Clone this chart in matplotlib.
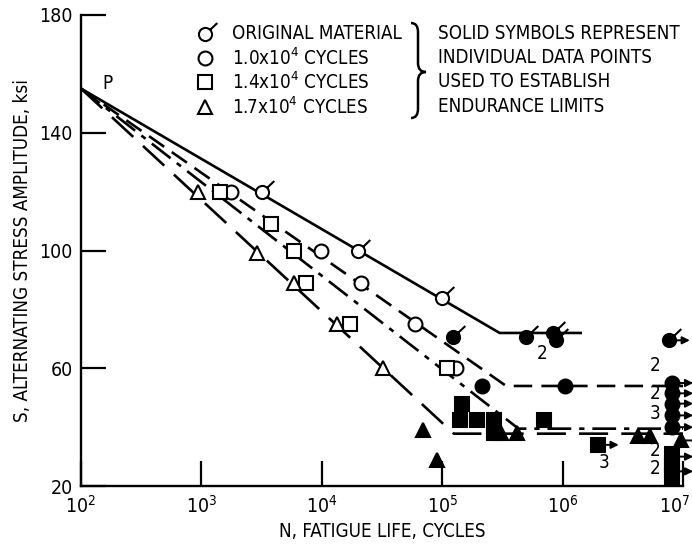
import matplotlib
matplotlib.use('Agg')
import matplotlib.pyplot as plt
import matplotlib.transforms as mtransforms
from matplotlib.path import Path
from matplotlib.patches import PathPatch

plt.rcParams['font.family'] = ['DejaVu Sans']
plt.rcParams['font.stretch'] = 'condensed'
plt.rcParams['mathtext.fontset'] = 'custom'
plt.rcParams['mathtext.rm'] = 'DejaVu Sans:stretch=condensed'
plt.rcParams['mathtext.it'] = 'DejaVu Sans:italic:stretch=condensed'

# fitted S-N lines (cycles, ksi)
orig_line_x = [1e2, 3.0e5, 1.45e6]
orig_line_y = [155, 72, 72]
c10_line_x = [1e2, 3.4e5, 1e7]
c10_line_y = [155, 54, 54]
c14_line_x = [1e2, 4.3e5, 1e7]
c14_line_y = [155, 39.5, 39.5]
c17_line_x = [1e2, 1.25e5, 1e7]
c17_line_y = [155, 37.8, 37.8]

# open symbols
orig_open_x = [3.2e3, 2.0e4, 1.0e5]
orig_open_y = [120, 100, 84]
c10_open_x = [1.76e3, 9.8e3, 2.1e4, 5.9e4, 1.3e5]
c10_open_y = [120, 100, 89, 75, 60]
c14_open_x = [1.42e3, 3.8e3, 5.9e3, 7.4e3, 1.7e4, 1.1e5]
c14_open_y = [120, 109, 100, 89, 75, 60]
c17_open_x = [9.4e2, 2.9e3, 5.9e3, 1.34e4, 3.2e4]
c17_open_y = [120, 99, 89, 75, 60]

# solid symbols (endurance limit points)
orig_solid_x = [1.23e5, 5.0e5, 8.3e5, 8.8e5, 7.6e6]
orig_solid_y = [70.5, 70.5, 72, 69.5, 69.5]
c10_solid_x = [2.14e5, 1.05e6, 8.1e6, 8.1e6, 8.1e6, 8.1e6, 8.1e6]
c10_solid_y = [54, 54, 55, 51.5, 48, 44, 40]
c14_solid_x = [1.45e5, 1.4e5, 1.95e5, 2.7e5, 2.7e5, 7.0e5, 1.95e6,
               8.1e6, 8.1e6, 8.1e6, 8.1e6]
c14_solid_y = [48, 42.5, 42.5, 42.5, 38, 42.5, 34, 31, 28, 25, 23]
c17_solid_x = [6.9e4, 9.1e4, 3.1e5, 4.2e5, 4.2e6, 5.3e6, 9.6e6]
c17_solid_y = [39, 29, 38, 38, 37, 37, 35.5]

# runouts (arrows)
runout_x = [7.6e6, 8.1e6, 8.1e6, 8.1e6, 8.1e6, 8.1e6, 9.6e6, 8.1e6, 8.1e6, 1.95e6]
runout_y = [69.5, 55, 51.5, 48, 44, 40, 35.5, 30, 25, 34]

# multiplicity labels
count_x = [6.8e5, 5.9e6, 5.9e6, 5.9e6, 5.9e6, 5.9e6, 2.2e6]
count_y = [65, 61, 51.5, 44.5, 32, 26, 28]
count_txt = ['2', '2', '2', '3', '2', '2', '3']

x_ticks = [1e2, 1e3, 1e4, 1e5, 1e6, 1e7]
y_ticks = [20, 60, 100, 140, 180]

legend_labels = ['ORIGINAL MATERIAL', r'1.0x10$^4$ CYCLES',
                 r'1.4x10$^4$ CYCLES', r'1.7x10$^4$ CYCLES']
note_lines = ['SOLID SYMBOLS REPRESENT', 'INDIVIDUAL DATA POINTS',
              'USED TO ESTABLISH', 'ENDURANCE LIMITS']

# circle with a flag for original material
flag_marker = Path.make_compound_path(
    Path.unit_circle(),
    Path([(0.71, 0.71), (1.8, 1.75)], [Path.MOVETO, Path.LINETO]))

fig = plt.figure(figsize=(6.92, 5.53), dpi=100)
ax = fig.add_axes([0.117, 0.121, 0.870, 0.852])

lw = 1.9
ax.plot(orig_line_x, orig_line_y, color='k', lw=lw, solid_capstyle='butt')
ax.plot(c10_line_x, c10_line_y, color='k', lw=lw, dashes=(7, 3.5))
ax.plot(c14_line_x, c14_line_y, color='k', lw=lw, dashes=(9, 3, 2, 3))
ax.plot(c17_line_x, c17_line_y, color='k', lw=lw, dashes=(11, 5))

mew = 1.5
sty = {
    'orig': dict(marker=flag_marker, ms=17),
    'c10': dict(marker='o', ms=10),
    'c14': dict(marker='s', ms=9.5),
    'c17': dict(marker='^', ms=10.5),
}
opens = [('orig', orig_open_x, orig_open_y), ('c10', c10_open_x, c10_open_y),
         ('c14', c14_open_x, c14_open_y), ('c17', c17_open_x, c17_open_y)]
solids = [('orig', orig_solid_x, orig_solid_y), ('c10', c10_solid_x, c10_solid_y),
          ('c14', c14_solid_x, c14_solid_y), ('c17', c17_solid_x, c17_solid_y)]
for key, xs, ys in opens:
    ax.plot(xs, ys, ls='none', mfc='white', mec='k', mew=mew, zorder=4,
            clip_on=False, **sty[key])
for key, xs, ys in solids:
    ax.plot(xs, ys, ls='none', mfc='k', mec='k', mew=mew, zorder=4,
            clip_on=False, **sty[key])

for x, y in zip(runout_x, runout_y):
    ax.annotate('', xy=(x * 1.5, y), xytext=(x, y), annotation_clip=False,
                arrowprops=dict(arrowstyle='-|>', color='k', lw=1.4,
                                mutation_scale=11, shrinkA=0, shrinkB=0),
                zorder=3)

for x, y, t in zip(count_x, count_y, count_txt):
    ax.text(x, y, t, fontsize=13.5, ha='center', va='center')

ax.text(150, 153.5, 'P', fontsize=13.5, ha='left', va='bottom')

ax.set_xscale('log')
ax.set_xlim(1e2, 1e7)
ax.set_ylim(20, 180)
ax.set_xticks(x_ticks)
ax.set_yticks(y_ticks)
ax.minorticks_off()
ax.tick_params(direction='in', length=18, width=1.6, labelsize=14, pad=6)
for s in ['top', 'right']:
    ax.spines[s].set_visible(False)
for s in ['left', 'bottom']:
    ax.spines[s].set_linewidth(1.7)

# pull the 10^7 label in so it is not cut at the figure edge
last = ax.xaxis.get_major_ticks()[-1].label1
last.set_transform(last.get_transform() +
                   mtransforms.ScaledTranslation(-6 / 72, 0, fig.dpi_scale_trans))

ax.set_xlabel('N, FATIGUE LIFE, CYCLES', fontsize=13.5, labelpad=4)
ax.set_ylabel('S, ALTERNATING STRESS AMPLITUDE, ksi', fontsize=13.5, labelpad=5)

# legend block (axes fraction)
rows_y = [0.960, 0.909, 0.858, 0.805]
for key, ry, lab in zip(['orig', 'c10', 'c14', 'c17'], rows_y, legend_labels):
    ax.plot([0.206], [ry], transform=ax.transAxes, ls='none', mfc='white',
            mec='k', mew=mew, clip_on=False, **sty[key])
    ax.text(0.251, ry, lab, transform=ax.transAxes, fontsize=13.5, va='center')
for ry, t in zip(rows_y, note_lines):
    ax.text(0.593, ry, t, transform=ax.transAxes, fontsize=13.5, va='center')

# curly brace (figure pixels, y down)
bp = [(411, 23), (418, 23), (418, 32), (418, 63), (418, 72), (426, 72),
      (418, 72), (418, 81), (418, 109), (418, 118), (411, 118)]
codes = [Path.MOVETO, Path.CURVE3, Path.CURVE3, Path.LINETO, Path.CURVE3,
         Path.CURVE3, Path.CURVE3, Path.CURVE3, Path.LINETO, Path.CURVE3, Path.CURVE3]
bp = [(px / 692, 1 - py / 553) for px, py in bp]
fig.patches.append(PathPatch(Path(bp, codes), fill=False, lw=1.8,
                             transform=fig.transFigure, figure=fig))

fig.savefig('out.png', dpi=100)
